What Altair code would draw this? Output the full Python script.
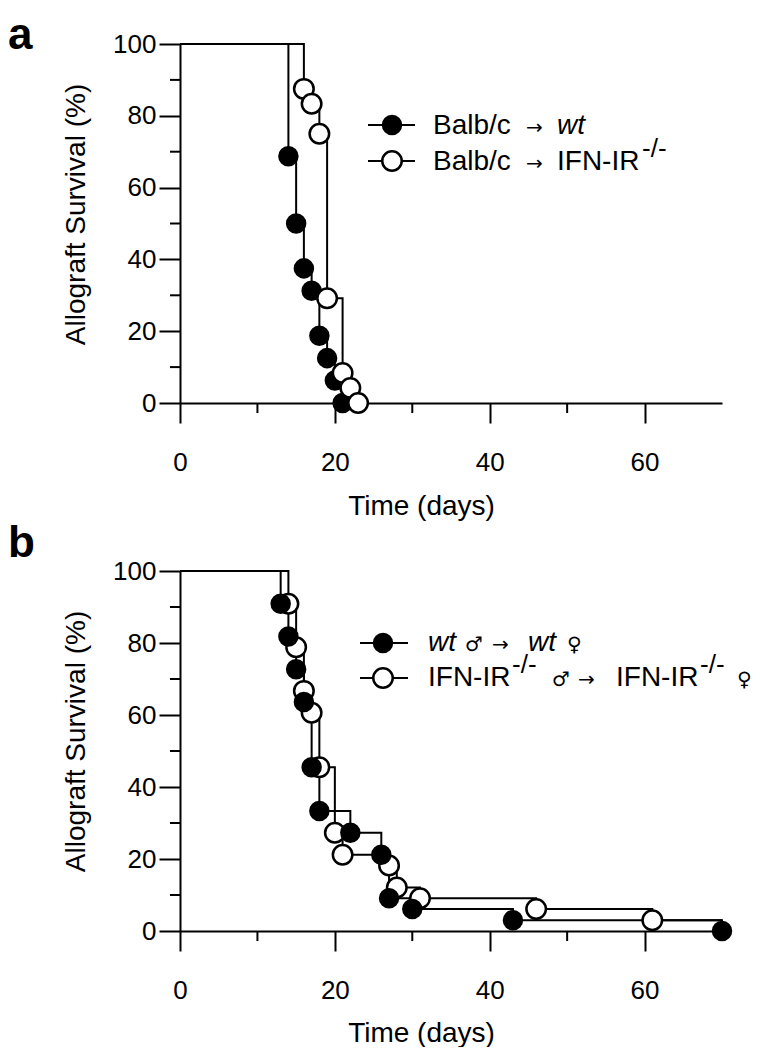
import altair as alt
import pandas as pd

FONT = "Liberation Sans"
SYM_FONT = "DejaVu Sans"

# ---------------- data ----------------
# panel a : Balb/c -> wt (filled) and Balb/c -> IFN-IR-/- (open)
a_wt_days = [14, 15, 16, 17, 18, 19, 20, 21]
a_wt_surv = [68.75, 50.0, 37.5, 31.25, 18.75, 12.5, 6.25, 0.0]
a_ko_days = [16, 17, 18, 19, 21, 22, 23]
a_ko_surv = [87.5, 83.33, 75.0, 29.17, 8.33, 4.17, 0.0]

# panel b : wt male -> wt female (filled), IFN-IR-/- male -> female (open)
b_wt_days = [13, 14, 15, 16, 17, 18, 22, 26, 27, 30, 43, 70]
b_wt_surv = [90.9, 81.8, 72.7, 63.6, 45.5, 33.3, 27.3, 21.2, 9.1, 6.1, 3.0, 0.0]
b_ko_days = [14, 15, 16, 17, 18, 20, 21, 27, 28, 31, 46, 61]
b_ko_surv = [90.9, 78.8, 66.7, 60.6, 45.5, 27.3, 21.2, 18.2, 12.1, 9.1, 6.1, 3.0]
b_ko_end = 70  # end of follow-up (censored, no marker)

x_major = [0, 20, 40, 60]
x_minor = [10, 30, 50]
y_major = [0, 20, 40, 60, 80, 100]
y_minor = [10, 30, 50, 70, 90]
x_domain = [0, 70]
y_domain = [0, 100]


def km_frames(series):
    rows_line, rows_pts = [], []
    for name, days, surv, end in series:
        pts = [(0, 100.0)] + list(zip(days, surv))
        if end is not None:
            pts.append((end, surv[-1]))
        for i, (t, s) in enumerate(pts):
            rows_line.append({"series": name, "i": i, "t": t, "s": s})
        for t, s in zip(days, surv):
            rows_pts.append({"series": name, "t": t, "s": s})
    return pd.DataFrame(rows_line), pd.DataFrame(rows_pts)


def x_axis(tpad):
    return alt.Axis(values=x_major, title="Time (days)", tickSize=20,
                    labelPadding=26, titlePadding=tpad, titleX=241)


def y_axis():
    return alt.Axis(values=y_major, title="Allograft Survival (%)", tickSize=21,
                    labelPadding=3, titlePadding=22, titleY=170)


ONE = pd.DataFrame({"k": [0]})


def txt(text, x, y, size=28, style="normal", weight="normal", font=FONT):
    return alt.Chart(ONE).mark_text(
        text=text, align="left", baseline="alphabetic", font=font,
        fontSize=size, fontStyle=style, fontWeight=weight, color="black"
    ).encode(x=alt.value(x), y=alt.value(y))


def leg_rule(x1, x2, y):
    return alt.Chart(ONE).mark_rule(color="black", strokeWidth=2).encode(
        x=alt.value(x1), x2=alt.value(x2), y=alt.value(y))


def leg_dot(x, y, filled):
    if filled:
        m = alt.Chart(ONE).mark_circle(size=420, color="black", opacity=1)
    else:
        m = alt.Chart(ONE).mark_point(shape="circle", filled=True, fill="white",
                                      stroke="black", strokeWidth=2.5, size=380, opacity=1)
    return m.encode(x=alt.value(x), y=alt.value(y))


def panel(series, wt_name, ko_name, height, ko_on_top, tpad, extra):
    line_df, pts_df = km_frames(series)
    X = alt.X("t:Q", scale=alt.Scale(domain=x_domain, nice=False, zero=True), axis=x_axis(tpad))
    Y = alt.Y("s:Q", scale=alt.Scale(domain=y_domain, nice=False), axis=y_axis())
    lines = alt.Chart(line_df).mark_line(
        interpolate="step-after", color="black", strokeWidth=2
    ).encode(x=X, y=Y, detail="series:N", order="i:Q")
    xminor = alt.Chart(pd.DataFrame({"t": x_minor})).mark_rule(
        color="black", strokeWidth=2
    ).encode(x="t:Q", y=alt.value(height), y2=alt.value(height + 10))
    yminor = alt.Chart(pd.DataFrame({"s": y_minor})).mark_rule(
        color="black", strokeWidth=2
    ).encode(y="s:Q", x=alt.value(0), x2=alt.value(-10))
    wt = alt.Chart(pts_df[pts_df.series == wt_name]).mark_circle(
        size=420, color="black", opacity=1
    ).encode(x="t:Q", y="s:Q")
    ko = alt.Chart(pts_df[pts_df.series == ko_name]).mark_point(
        shape="circle", filled=True, fill="white", stroke="black", strokeWidth=2.5,
        size=380, opacity=1
    ).encode(x="t:Q", y="s:Q")
    marks = [lines, xminor, yminor] + ([wt, ko] if ko_on_top else [ko, wt])
    return alt.layer(*marks, *extra).properties(width=542, height=height)


pa = panel(
    [("wt", a_wt_days, a_wt_surv, None), ("ko", a_ko_days, a_ko_surv, None)],
    "wt", "ko", 359, True, 17,
    [
        txt("a", -172, 5, size=44, weight="bold"),
        leg_rule(188, 235, 81), leg_dot(212, 81, True),
        leg_rule(188, 235, 117), leg_dot(212, 117, False),
        txt("Balb/c", 253, 90), txt("→", 346, 90, size=20, font=SYM_FONT),
        txt("wt", 377, 90, style="italic"),
        txt("Balb/c", 253, 126), txt("→", 346, 126, size=20, font=SYM_FONT),
        txt("IFN-IR", 377, 126),
        txt("-/-", 462, 113, size=26),
    ],
)

pb = panel(
    [("wt", b_wt_days, b_wt_surv, None), ("ko", b_ko_days, b_ko_surv, b_ko_end)],
    "wt", "ko", 360, False, 16,
    [
        txt("b", -172, -14, size=44, weight="bold"),
        leg_rule(180, 228, 72), leg_dot(203, 72, True),
        leg_rule(180, 228, 107), leg_dot(203, 107, False),
        txt("wt", 248, 80, style="italic"), txt("♂", 285, 80, size=20, font=SYM_FONT),
        txt("→", 312, 80, size=20, font=SYM_FONT),
        txt("wt", 348, 80, style="italic"), txt("♀", 387, 80, size=20, font=SYM_FONT),
        txt("IFN-IR", 248, 115), txt("-/-", 332, 102, size=26),
        txt("♂", 372, 115, size=20, font=SYM_FONT),
        txt("→", 398, 115, size=20, font=SYM_FONT), txt("IFN-IR", 436, 115),
        txt("-/-", 520, 102, size=26),
        txt("♀", 557, 115, size=20, font=SYM_FONT),
    ],
)

chart = alt.vconcat(pa, pb, spacing=2).configure(
    font=FONT, padding={"left": 0, "top": 6, "right": 0, "bottom": 0}
).configure_view(stroke=None).configure_axis(
    labelFont=FONT, titleFont=FONT, labelFontSize=26, titleFontSize=28,
    titleFontWeight="normal", labelColor="black", titleColor="black",
    domainColor="black", tickColor="black", domainWidth=2, tickWidth=2,
    grid=False, labelFlush=False, labelOverlap=False,
)

chart.save("out.html", embed_options={"renderer": "svg", "actions": False})
